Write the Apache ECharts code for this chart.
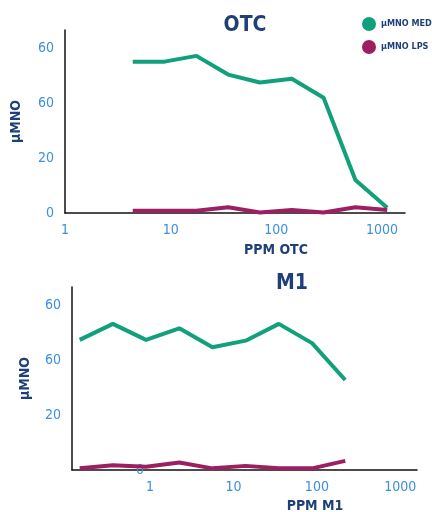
<!DOCTYPE html>
<html>
<head>
<meta charset="utf-8">
<script src="https://cdn.jsdelivr.net/npm/echarts@6/dist/echarts.min.js"></script>
<style>
  html, body { margin: 0; padding: 0; background: #ffffff; }
  #chart { width: 432px; height: 512px; }
</style>
</head>
<body>
<div id="chart"></div>
<script>
// OTC dose series (ppm) and nitric oxide response (µM)
const otcDose = [4.375, 8.75, 17.5, 35, 70, 140, 280, 560, 1120];
const otcMed  = [55.0, 55.0, 57.1, 50.3, 47.4, 48.8, 41.9, 12.0, 1.9];
const otcLps  = [0.8, 0.8, 0.8, 2.1, 0.2, 1.1, 0.2, 2.1, 1.1];

// M1 dose series (ppm) and nitric oxide response (µM)
const m1Dose = [0.1434, 0.3584, 0.896, 2.24, 5.6, 14, 35, 87.5, 218.75];
const m1Med  = [47.3, 53.1, 47.3, 51.5, 44.6, 47.0, 53.1, 46.1, 32.7];
const m1Lps  = [0.6, 1.7, 1.2, 2.7, 0.6, 1.5, 0.6, 0.6, 3.3];

// Tick labels as printed on the value axes
const yTickLabels = ['0', '20', '60', '60'];
const xTickLabels = { 1: '1', 10: '10', 100: '100', 1000: '1000' };

const seriesNames = ['µMNO MED', 'µMNO LPS'];
const colors = ['#10a07c', '#9c1f62'];

const FONT = "'Liberation Sans Narrow', 'DejaVu Sans Condensed', sans-serif";
const NAVY = '#1e3f78';
const BLUE = '#3d8ee0';

function pairs(xs, ys) { return xs.map((x, i) => [x, ys[i]]); }

function yLabel(v) {
  const i = Math.round(v / 20);
  if (Math.abs(v - i * 20) > 1e-6) return '';
  return yTickLabels[i] !== undefined ? yTickLabels[i] : '';
}
function xLabel(v) {
  const p = Math.round(Math.log10(v));
  const key = Math.pow(10, p);
  if (Math.abs(Math.log10(v) - p) > 1e-6) return '';
  return xTickLabels[key] || '';
}

const axisLine = { show: true, lineStyle: { color: '#111', width: 1.5 } };

const option = {
  animation: false,
  backgroundColor: '#ffffff',
  color: colors,
  title: [
    { text: 'OTC', left: 240, top: 10, textAlign: 'center',
      textStyle: { fontFamily: FONT, fontSize: 21, fontWeight: 'bold', color: NAVY } },
    { text: 'M1', left: 287, top: 268, textAlign: 'center',
      textStyle: { fontFamily: FONT, fontSize: 21, fontWeight: 'bold', color: NAVY } },
    { text: 'PPM OTC', left: 271, top: 238, textAlign: 'center',
      textStyle: { fontFamily: FONT, fontSize: 14, fontWeight: 'bold', color: NAVY } },
    { text: 'PPM M1', left: 310, top: 494, textAlign: 'center',
      textStyle: { fontFamily: FONT, fontSize: 14, fontWeight: 'bold', color: NAVY } }
  ],
  legend: {
    orient: 'vertical', left: 357, top: 12,
    icon: 'circle', itemWidth: 14, itemHeight: 14, itemGap: 9,
    data: seriesNames,
    textStyle: { fontFamily: FONT, fontSize: 9, fontWeight: 'bold', color: NAVY }
  },
  grid: [
    { left: 65, top: 30, width: 340, height: 183 },
    { left: 72, top: 287, width: 345, height: 183 }
  ],
  xAxis: [
    { type: 'log', logBase: 10, gridIndex: 0, min: 1, max: 1650,
      axisLine: axisLine, axisTick: { show: false }, splitLine: { show: false },
      axisLabel: { formatter: xLabel, color: BLUE, fontFamily: FONT, fontSize: 14, margin: 10 } },
    { type: 'log', logBase: 10, gridIndex: 1, min: 0.116, max: 1585,
      axisLine: axisLine, axisTick: { show: false }, splitLine: { show: false },
      axisLabel: { formatter: xLabel, color: BLUE, fontFamily: FONT, fontSize: 14, margin: 10 } }
  ],
  yAxis: [
    { type: 'value', gridIndex: 0, min: 0, max: 66.5, interval: 20,
      name: 'µMNO', nameLocation: 'middle', nameGap: 42, nameRotate: 90,
      nameTextStyle: { fontFamily: FONT, fontSize: 14, fontWeight: 'bold', color: NAVY },
      axisLine: axisLine, axisTick: { show: false }, splitLine: { show: false },
      axisLabel: { formatter: yLabel, color: BLUE, fontFamily: FONT, fontSize: 14, margin: 11 } },
    { type: 'value', gridIndex: 1, min: 0, max: 66.5, interval: 20,
      name: 'µMNO', nameLocation: 'middle', nameGap: 40, nameRotate: 90,
      nameTextStyle: { fontFamily: FONT, fontSize: 14, fontWeight: 'bold', color: NAVY },
      axisLine: axisLine, axisTick: { show: false }, splitLine: { show: false },
      axisLabel: { formatter: v => (v === 0 ? '' : yLabel(v)), color: BLUE, fontFamily: FONT, fontSize: 14, margin: 11 } },
    // zero label of the lower panel sits inside the plot area
    { type: 'value', gridIndex: 1, min: 0, max: 66.5, interval: 20, position: 'left',
      axisLine: { show: false }, axisTick: { show: false }, splitLine: { show: false },
      axisLabel: { inside: true, margin: 64, formatter: v => (v === 0 ? yLabel(0) : ''),
        color: BLUE, fontFamily: FONT, fontSize: 14, verticalAlign: 'middle' } }
  ],
  series: [
    { name: seriesNames[0], type: 'line', xAxisIndex: 0, yAxisIndex: 0, data: pairs(otcDose, otcMed),
      showSymbol: false, lineStyle: { width: 4, color: colors[0] }, z: 3 },
    { name: seriesNames[1], type: 'line', xAxisIndex: 0, yAxisIndex: 0, data: pairs(otcDose, otcLps),
      showSymbol: false, lineStyle: { width: 4, color: colors[1] }, z: 3 },
    { name: seriesNames[0], type: 'line', xAxisIndex: 1, yAxisIndex: 1, data: pairs(m1Dose, m1Med),
      showSymbol: false, lineStyle: { width: 4, color: colors[0] }, z: 3 },
    { name: seriesNames[1], type: 'line', xAxisIndex: 1, yAxisIndex: 1, data: pairs(m1Dose, m1Lps),
      showSymbol: false, lineStyle: { width: 4, color: colors[1] }, z: 3 }
  ]
};

const chart = echarts.init(document.getElementById('chart'), null, { renderer: 'canvas' });
chart.setOption(option);
</script>
</body>
</html>
